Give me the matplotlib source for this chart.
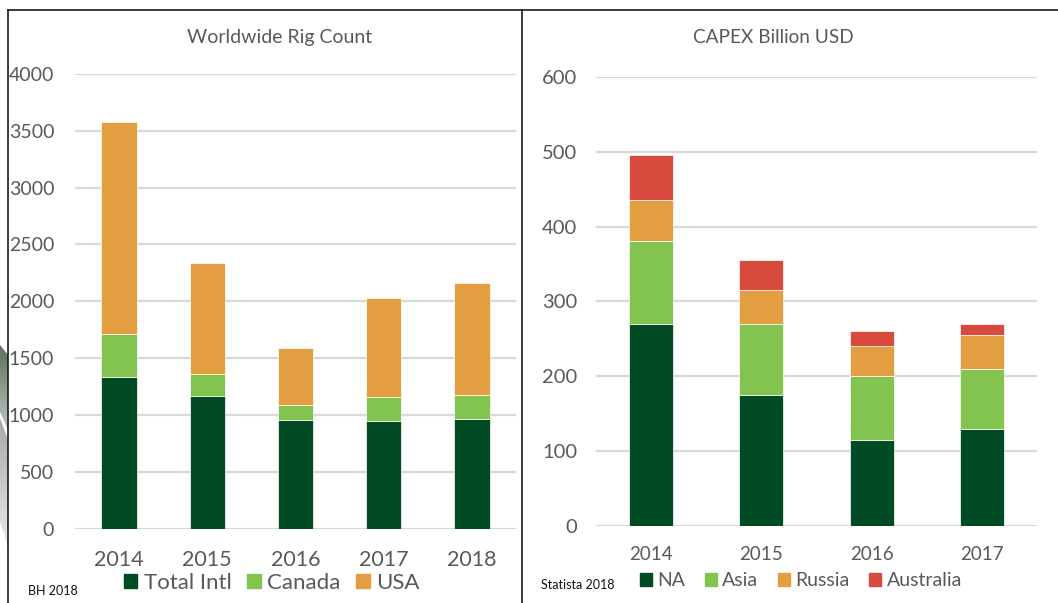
import matplotlib
matplotlib.use("Agg")
import matplotlib.pyplot as plt
import numpy as np
from matplotlib.lines import Line2D
from matplotlib.patches import Patch, Polygon

plt.rcParams["font.family"] = ["Lato", "DejaVu Sans"]

# ---------------------------------------------------------------------------
# Data
# ---------------------------------------------------------------------------
rig_years = ["2014", "2015", "2016", "2017", "2018"]
rig_total_intl = [1336, 1166, 953, 947, 967]
rig_canada = [378, 193, 132, 209, 206]
rig_usa = [1860, 974, 504, 873, 984]

capex_years = ["2014", "2015", "2016", "2017"]
capex_na = [270, 175, 115, 130]
capex_asia = [110, 95, 85, 80]
capex_russia = [55, 45, 40, 45]
capex_australia = [60, 40, 20, 15]

DARK_GREEN = "#014B24"
LIGHT_GREEN = "#83C350"
ORANGE = "#E29E40"
RED = "#D84B3C"
GRID = "#D9D9D9"
TEXT = "#595959"

W, H = 1058, 603


def fx(px):
    return px / W


def fy(py):
    return 1 - py / H


def stacked(ax, cats, series, colors, width=0.40):
    x = np.arange(len(cats))
    bottom = np.zeros(len(cats))
    for vals, col in zip(series, colors):
        vals = np.asarray(vals, dtype=float)
        ax.bar(x, vals, width, bottom=bottom, color=col,
               edgecolor="white", linewidth=0.5, zorder=3)
        bottom += vals
    ax.set_xticks(x)
    ax.set_xticklabels(cats)
    ax.set_xlim(-0.5, len(cats) - 0.5)


def style(ax, ypad, xpad, ysize, xsize):
    for s in ax.spines.values():
        s.set_visible(False)
    ax.grid(axis="y", color=GRID, linewidth=1.6, zorder=0)
    ax.tick_params(axis="y", length=0, pad=ypad, labelsize=ysize, labelcolor=TEXT)
    ax.tick_params(axis="x", length=0, pad=xpad, labelsize=xsize, labelcolor=TEXT)
    ax.set_axisbelow(True)


fig = plt.figure(figsize=(W / 100, H / 100), dpi=100)

# ---------------------------------------------------------------------------
# Left: rig count
# ---------------------------------------------------------------------------
ax1 = fig.add_axes([fx(75), fy(528.9), fx(441), (528.9 - 73.8) / H])
stacked(ax1, rig_years, [rig_total_intl, rig_canada, rig_usa],
        [DARK_GREEN, LIGHT_GREEN, ORANGE])
ax1.set_ylim(0, 4000)
ax1.set_yticks(np.arange(0, 4001, 500))
style(ax1, ypad=15, xpad=15.5, ysize=14, xsize=15.5)
fig.text(fx(280), fy(38), "Worldwide Rig Count", ha="center", va="center",
         fontsize=14, color=TEXT)
fig.legend(handles=[Patch(color=c, label=l) for c, l in
                    zip([DARK_GREEN, LIGHT_GREEN, ORANGE], ["Total Intl", "Canada", "USA"])],
           loc="center", bbox_to_anchor=(fx(272), fy(583)), ncol=3, frameon=False,
           fontsize=16, labelcolor=TEXT, handlelength=0.6, handleheight=0.6,
           handletextpad=0.3, columnspacing=0.7, borderpad=0, borderaxespad=0)
fig.text(fx(28), fy(591), "BH 2018", ha="left", va="center", fontsize=9, color="#111111")

# ---------------------------------------------------------------------------
# Right: CAPEX
# ---------------------------------------------------------------------------
ax2 = fig.add_axes([fx(596), fy(525.8), fx(441), (525.8 - 76.9) / H])
stacked(ax2, capex_years, [capex_na, capex_asia, capex_russia, capex_australia],
        [DARK_GREEN, LIGHT_GREEN, ORANGE, RED])
ax2.set_ylim(0, 600)
ax2.set_yticks(np.arange(0, 601, 100))
style(ax2, ypad=13.5, xpad=14.5, ysize=14.5, xsize=13.5)
fig.text(fx(773), fy(37.5), "CAPEX Billion USD", ha="center", va="center",
         fontsize=13.7, color=TEXT)
fig.legend(handles=[Patch(color=c, label=l) for c, l in
                    zip([DARK_GREEN, LIGHT_GREEN, ORANGE, RED],
                        ["NA", "Asia", "Russia", "Australia"])],
           loc="center", bbox_to_anchor=(fx(801), fy(581)), ncol=4, frameon=False,
           fontsize=14, labelcolor=TEXT, handlelength=0.6, handleheight=0.6,
           handletextpad=0.3, columnspacing=1.0, borderpad=0, borderaxespad=0)
fig.text(fx(541), fy(585), "Statista 2018", ha="left", va="center", fontsize=9,
         color="#111111")

# ---------------------------------------------------------------------------
# Slide frame lines and left-edge decoration
# ---------------------------------------------------------------------------
for xs, ys in [((8, W), (9.5, 9.5)), ((8, 8), (9.5, H)), ((522, 522), (9.5, H))]:
    fig.add_artist(Line2D([fx(x) for x in xs], [fy(y) for y in ys],
                          color="#1a1a1a", linewidth=1.2))

deco = fig.add_axes([0, 0, fx(8), 1])
deco.axis("off")
upper = Polygon([(0, 345), (8, 355), (8, 430), (0, 412)], closed=True,
                facecolor="none", edgecolor="none")
lower = Polygon([(0, 418), (8, 440), (8, 545), (0, 522)], closed=True,
                facecolor="none", edgecolor="none")
for poly, (c0, c1), (y0, y1) in [(upper, ("#5a705d", "#c0c4c0"), (345, 430)),
                                 (lower, ("#a8a8a8", "#e8e8e8"), (418, 545))]:
    deco.add_patch(poly)
    cmap = matplotlib.colors.LinearSegmentedColormap.from_list("g", [c0, c1])
    im = deco.imshow(np.linspace(0, 1, 50).reshape(-1, 1), cmap=cmap, aspect="auto",
                     extent=(0, 8, y1, y0))
    im.set_clip_path(poly)
deco.set_xlim(0, 8)
deco.set_ylim(H, 0)

fig.savefig("out.png", dpi=100)
